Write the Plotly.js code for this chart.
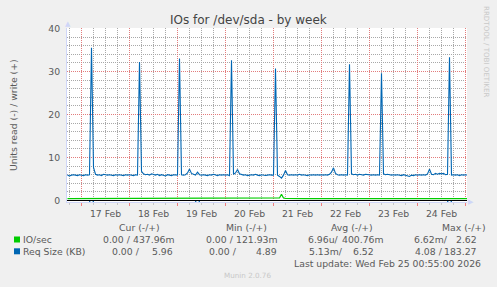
<!DOCTYPE html>
<html>
<head>
<meta charset="utf-8">
<script src="https://cdn.plot.ly/plotly-3.0.1.min.js"></script>
<style>
html,body{margin:0;padding:0;background:#F0F0F0;}
#chart{width:497px;height:287px;}
</style>
</head>
<body>
<div id="chart"></div>
<script>
// ---- data (hourly samples from 2026-02-16 17:00 UTC) ----
const startTime = "2026-02-16T17:00:00Z";
const stepHours = 1;

// Req Size (KB), write (+)
const reqWrite = [
  5.9,5.7,5.9,6.0,5.9,5.8,6.0,
  5.9,5.8,6.0,5.9,6.0,35.5,7.7,6.1,5.9,6.0,5.8,6.1,6.0,5.9,6.0,5.9,5.8,6.0,5.9,6.0,5.9,5.8,6.0,5.9,
  6.0,5.9,5.8,6.0,5.9,32.2,6.8,6.2,6.0,6.1,5.9,6.2,6.0,5.9,6.1,5.8,6.0,5.9,5.7,6.0,5.9,5.8,6.0,5.9,
  5.9,33.0,6.0,5.9,6.0,6.4,7.3,6.3,6.0,5.9,6.6,6.0,5.9,6.0,5.9,5.8,6.0,5.9,6.1,5.9,5.8,6.0,5.9,6.0,
  5.9,6.0,5.8,32.6,6.1,6.4,7.2,6.2,6.0,5.9,6.0,5.8,5.9,6.0,5.9,6.1,5.9,5.8,6.0,5.9,5.8,5.9,6.0,5.9,
  5.9,30.7,5.9,5.6,5.2,5.9,7.0,6.0,5.9,6.0,5.9,6.0,5.9,6.1,5.9,6.0,5.9,5.8,6.0,5.9,6.0,5.9,6.0,5.9,
  6.0,5.9,6.0,5.9,6.1,6.6,7.6,6.3,6.0,5.9,6.0,5.9,6.0,5.9,31.7,6.2,6.0,6.1,5.9,6.1,6.0,5.9,6.1,6.0,
  6.0,5.9,6.0,5.9,6.0,5.9,29.6,6.2,6.0,6.1,6.0,5.9,6.0,5.9,6.0,5.9,5.8,6.0,5.9,5.7,5.6,5.9,5.8,6.0,
  5.9,6.0,5.9,6.0,5.9,6.2,7.3,6.1,6.0,6.3,6.1,6.3,6.2,6.3,6.0,6.1,33.3,5.9,6.0,5.9,6.0,5.8,6.0,5.9,6.0,5.9
];

// IO/sec, write (+)
const ioWrite = [
  0.44,0.44,0.45,0.44,0.44,0.44,0.44,
  0.44,0.44,0.44,0.45,0.44,0.50,0.55,0.46,0.44,0.44,0.44,0.44,0.45,0.44,0.44,0.44,0.44,0.44,0.44,0.45,0.44,0.44,0.44,0.44,
  0.44,0.44,0.44,0.45,0.44,0.52,0.48,0.44,0.44,0.44,0.44,0.45,0.44,0.44,0.44,0.44,0.44,0.44,0.44,0.45,0.44,0.44,0.44,0.44,
  0.44,0.50,0.46,0.44,0.44,0.45,0.52,0.46,0.44,0.44,0.44,0.44,0.44,0.45,0.44,0.44,0.44,0.44,0.44,0.44,0.45,0.44,0.44,0.44,
  0.44,0.44,0.44,0.50,0.46,0.44,0.50,0.45,0.44,0.44,0.44,0.44,0.45,0.44,0.44,0.44,0.44,0.44,0.44,0.44,0.45,0.44,0.44,0.44,
  0.44,0.50,0.46,0.60,1.45,0.60,0.46,0.44,0.44,0.44,0.44,0.45,0.44,0.44,0.44,0.44,0.44,0.44,0.44,0.45,0.44,0.44,0.44,0.44,
  0.44,0.44,0.44,0.45,0.44,0.48,0.55,0.46,0.44,0.44,0.44,0.45,0.44,0.44,0.52,0.46,0.44,0.44,0.45,0.44,0.44,0.44,0.44,0.44,
  0.44,0.44,0.45,0.44,0.44,0.44,0.52,0.46,0.44,0.44,0.44,0.45,0.44,0.44,0.44,0.44,0.44,0.44,0.45,0.44,0.44,0.44,0.44,0.44,
  0.44,0.44,0.44,0.45,0.44,0.46,0.50,0.45,0.44,0.44,0.45,0.44,0.44,0.44,0.44,0.44,0.50,0.46,0.44,0.44,0.44,0.44,0.44,0.44,0.44,0.44
];

// read (-) series, sparse samples (hour index, value)
const reqReadIdx = [0, 11, 12, 13, 64, 65, 66, 190, 191, 192, 200];
const reqReadVal = [0, 0, -2.0, 0, 0, -2.0, 0, 0, -2.0, 0, 0];
const ioReadIdx = [0, 200];
const ioReadVal = [0, 0];

// axis ticks
const yMajorTicks = [0, 10, 20, 30, 40];
const yMinorTicks = [2,4,6,8,12,14,16,18,22,24,26,28,32,34,36,38];
const xMajorDays = ["2026-02-17","2026-02-18","2026-02-19","2026-02-20","2026-02-21","2026-02-22","2026-02-23","2026-02-24","2026-02-25"];
const xMinorHours = ["06:00","12:00","18:00"];

// legend texts
const legendNames = ["IO/sec", "Req Size (KB)"];
const legendColors = ["#00CC00", "#0066B3"];
const colHeaders = ["Cur (-/+)", "Min (-/+)", "Avg (-/+)", "Max (-/+)"];
const ioStats = [["0.00 /", "437.96m"], ["0.00 /", "121.93m"], ["6.96u/", "400.76m"], ["6.62m/", "2.62"]];
const reqStats = [["0.00 /", "5.96"], ["0.00 /", "4.89"], ["5.13m/", "6.52"], ["4.08 /", "183.27"]];
const lastUpdate = "Last update: Wed Feb 25 00:55:00 2026";

// ---- build ----
const t0 = Date.parse(startTime);
function ts(i){
  const d = new Date(t0 + i*stepHours*3600000);
  const p = n => String(n).padStart(2,'0');
  return d.getUTCFullYear()+'-'+p(d.getUTCMonth()+1)+'-'+p(d.getUTCDate())+' '+p(d.getUTCHours())+':'+p(d.getUTCMinutes());
}
const xs = reqWrite.map((_,i)=>ts(i));
const xsIo = ioWrite.map((_,i)=>ts(i));
const xMinorVals = ["2026-02-16 18:00"];
xMajorDays.forEach(d => xMinorHours.forEach(h => xMinorVals.push(d + " " + h)));

const FONT = "DejaVu Sans";
const TXT = "#5a5a5a";
const MAJ = "#E27C7C", MIN = "#A8A8A8", DASH = "1px,1px";

const traces = [
  {x: xsIo, y: ioWrite, type:'scatter', mode:'lines', line:{color:'#00CC00', width:1.2}, hoverinfo:'skip'},
  {x: xs, y: reqWrite, type:'scatter', mode:'lines', line:{color:'#0066B3', width:1.1}, hoverinfo:'skip'},
  {x: ioReadIdx.map(ts), y: ioReadVal, type:'scatter', mode:'lines', line:{color:'#00CC00', width:1.2}, hoverinfo:'skip'},
  {x: reqReadIdx.map(ts), y: reqReadVal, type:'scatter', mode:'lines', line:{color:'#0066B3', width:1.2}, hoverinfo:'skip'}
];

const L = 67, R = 467, T = 28, B = 202;
const ax = px => (px - L)/(R - L);
const ay = py => (B - py)/(B - T);

const ann = [];
function txt(text, px, py, xanchor, size, color, extra){
  ann.push(Object.assign({text:text, xref:'paper', yref:'paper', x:ax(px), y:ay(py),
    xanchor:xanchor, yanchor:'middle', showarrow:false,
    font:{family:FONT, size:size, color:color}}, extra||{}));
}
txt("IOs for /dev/sda - by week", 248, 20, 'center', 12, '#444');
txt("Units read (-) / write (+)", 13, 115, 'center', 9.3, TXT, {textangle:-90});
txt("RRDTOOL / TOBI OETIKER", 487, 51, 'center', 7.1, '#C8C8C8', {textangle:90});
txt("\u25B2", 67.5, 24, 'center', 7, '#CFD6F8');
txt("\u25B6", 471, 202, 'center', 7, '#CFD6F8');

const headerX = [139.5, 246, 352, 464];
colHeaders.forEach((h,i)=>txt(h, headerX[i], 227, 'center', 9.3, TXT));

const row1Y = 239.5, row2Y = 251.3;
txt(legendNames[0], 20.5, row1Y, 'left', 9.3, TXT);
txt(legendNames[1], 20.5, row2Y, 'left', 9.3, TXT);

const r1Left = [101, 204, 306, 412], r1Right = [177, 280, 386, 479];
const r2Left = [110, 207, 307, 413], r2Right = [175, 279, 376, 479];
ioStats.forEach((s,i)=>{ txt(s[0], r1Left[i], row1Y, 'left', 9.3, TXT); txt(s[1], r1Right[i], row1Y, 'right', 9.3, TXT); });
reqStats.forEach((s,i)=>{ txt(s[0], r2Left[i], row2Y, 'left', 9.3, TXT); txt(s[1], r2Right[i], row2Y, 'right', 9.3, TXT); });
txt(lastUpdate, 483, 263.3, 'right', 9.3, TXT);
txt("Munin 2.0.76", 247, 275, 'center', 7.2, '#C8C8C8');

const shapes = [
  {type:'rect', xref:'paper', yref:'paper', x0:ax(14), x1:ax(20), y0:ay(242.5), y1:ay(236.5), fillcolor:legendColors[0], line:{width:0}},
  {type:'rect', xref:'paper', yref:'paper', x0:ax(14), x1:ax(20), y0:ay(254.3), y1:ay(248.3), fillcolor:legendColors[1], line:{width:0}},
  {type:'line', xref:'paper', yref:'y', x0:0, x1:1, y0:0, y1:0, line:{color:'#000000', width:1}, layer:'above'}
];

const layout = {
  width:497, height:287,
  margin:{l:L, r:497-R, t:T, b:287-B},
  paper_bgcolor:'#F0F0F0', plot_bgcolor:'#FFFFFF',
  showlegend:false,
  xaxis:{
    type:'date', range:['2026-02-16 16:45','2026-02-25 00:45'],
    tick0:'2026-02-17', dtick:86400000, tickformat:'%d %b', ticklabelmode:'period',
    showgrid:true, gridcolor:MAJ, griddash:DASH, gridwidth:1,
    ticks:'outside', ticklen:3, tickcolor:'#F08080',
    minor:{tickmode:'array', tickvals:xMinorVals, showgrid:true, gridcolor:MIN, griddash:DASH, gridwidth:1, ticks:'outside', ticklen:2, tickcolor:'#C8C8C8'},
    showline:true, linecolor:'#CFD6F8', linewidth:1, zeroline:false,
    tickfont:{family:FONT, size:9.3, color:TXT}, fixedrange:true
  },
  yaxis:{
    range:[-0.349, 40.116], tickmode:'array', tickvals:yMajorTicks,
    showgrid:true, gridcolor:MAJ, griddash:DASH, gridwidth:1,
    minor:{tickmode:'array', tickvals:yMinorTicks, showgrid:true, gridcolor:MIN, griddash:DASH, gridwidth:1},
    ticks:'', showline:true, linecolor:'#CFD6F8', linewidth:1, zeroline:false,
    tickfont:{family:FONT, size:9.3, color:TXT}, ticklabelstandoff:4, fixedrange:true
  },
  annotations:ann,
  shapes:shapes
};

Plotly.newPlot('chart', traces, layout, {displayModeBar:false, staticPlot:true});
</script>
</body>
</html>
